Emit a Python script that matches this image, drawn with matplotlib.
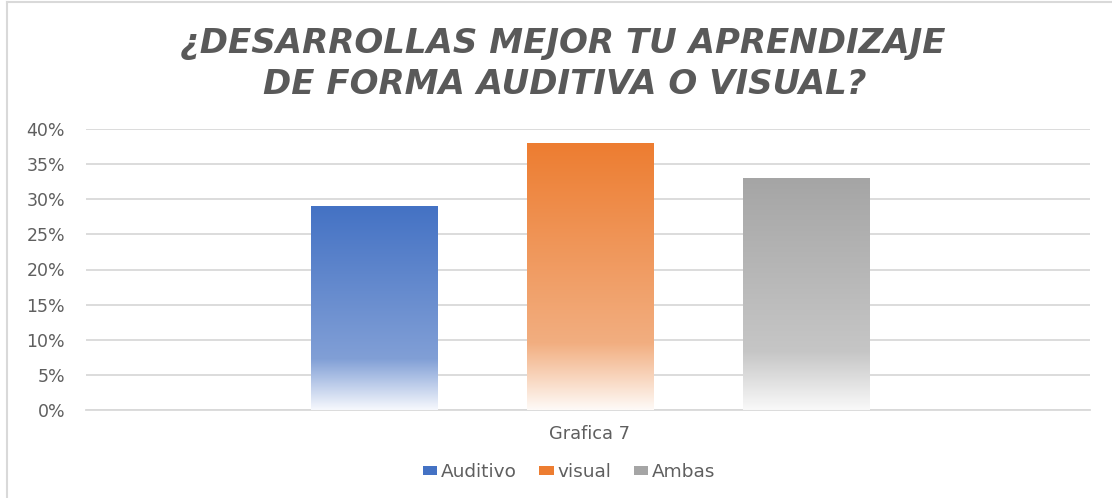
import numpy as np
import matplotlib
matplotlib.use("Agg")
import matplotlib.pyplot as plt
from matplotlib.patches import Patch
from matplotlib.lines import Line2D
from matplotlib.colors import to_rgb

# ---- data ----
title_line1 = "¿DESARROLLAS MEJOR TU APRENDIZAJE"
title_line2 = "DE FORMA AUDITIVA O VISUAL?"
category = "Grafica 7"
series = ["Auditivo", "visual", "Ambas"]
values = [0.29, 0.38, 0.33]
top_colors = ["#4472C4", "#ED7D31", "#A5A5A5"]
mid_colors = ["#819FD6", "#F2AE80", "#C6C6C6"]
bottom_colors = ["#F6F8FD", "#FEFAF7", "#F9F9F9"]
yticks = [0, 0.05, 0.10, 0.15, 0.20, 0.25, 0.30, 0.35, 0.40]

W, H = 1112, 498
fig = plt.figure(figsize=(W / 100, H / 100), dpi=100)
fig.patch.set_facecolor("white")

ax = fig.add_axes([86 / W, 1 - 410 / H, (1090 - 86) / W, (410 - 129) / H])
ax.set_facecolor("white")

x = np.arange(len(series))
width = 126 / 216
bars = ax.bar(x, values, width=width, color="none", edgecolor="none", zorder=3)

def gradient(c_top, c_mid, c_bot, n=256):
    t = np.linspace(0, 1, n)  # 0 top, 1 bottom
    top, mid, bot = np.array(to_rgb(c_top)), np.array(to_rgb(c_mid)), np.array(to_rgb(c_bot))
    out = np.zeros((n, 1, 3))
    for i, ti in enumerate(t):
        if ti <= 0.75:
            f = ti / 0.75
            out[i, 0] = top + (mid - top) * f
        else:
            f = (ti - 0.75) / 0.25
            out[i, 0] = mid + (bot - mid) * f
    return out

for b, ct, cm, cb in zip(bars, top_colors, mid_colors, bottom_colors):
    x0, w, h = b.get_x(), b.get_width(), b.get_height()
    img = gradient(ct, cm, cb)
    ax.imshow(img, extent=[x0, x0 + w, 0, h], aspect="auto", zorder=3,
              interpolation="bilinear", origin="upper")

font = "DejaVu Sans"
txt_color = "#5F5F5F"
ax.set_xlim(-1.333, 3.315)
ax.set_ylim(0, 0.4)
ax.set_yticks(yticks)
ax.set_yticklabels([f"{int(round(v * 100))}%" for v in yticks],
                   fontsize=12.5, color=txt_color, family=font)
ax.yaxis.grid(True, color="#D9D9D9", linewidth=1.3, zorder=0)
ax.set_axisbelow(True)
ax.tick_params(axis="y", length=0, pad=15)
ax.set_xticks([1])
ax.set_xticklabels([category], fontsize=12.8, color=txt_color, family=font)
ax.tick_params(axis="x", length=0, pad=11)
for s in ["left", "right", "top"]:
    ax.spines[s].set_visible(False)
ax.spines["bottom"].set_color("#D9D9D9")
ax.spines["bottom"].set_linewidth(1.3)

fig.text(563 / W, 1 - 43 / H, title_line1, ha="center", va="center",
         fontsize=24.5, fontweight="bold", fontstyle="italic", color="#595959",
         family=font)
fig.text(565 / W, 1 - 85 / H, title_line2, ha="center", va="center",
         fontsize=24.5, fontweight="bold", fontstyle="italic", color="#595959",
         family=font)

handles = [Patch(facecolor=c, edgecolor="none") for c in top_colors]
leg = fig.legend(handles, series, loc="center", bbox_to_anchor=(569 / W, 1 - 472 / H),
                 ncol=3, frameon=False, handlelength=0.8, handleheight=0.4,
                 handletextpad=0.2, columnspacing=1.2,
                 prop={"family": font, "size": 13.3})
for t in leg.get_texts():
    t.set_color(txt_color)

# chart border (left and top visible)
fig.add_artist(Line2D([7 / W, 7 / W], [0, 1 - 2 / H], transform=fig.transFigure,
                      color="#D9D9D9", linewidth=1.5))
fig.add_artist(Line2D([7 / W, 1], [1 - 2 / H, 1 - 2 / H], transform=fig.transFigure,
                      color="#D9D9D9", linewidth=1.5))

fig.savefig("out.png", dpi=100, facecolor="white")
